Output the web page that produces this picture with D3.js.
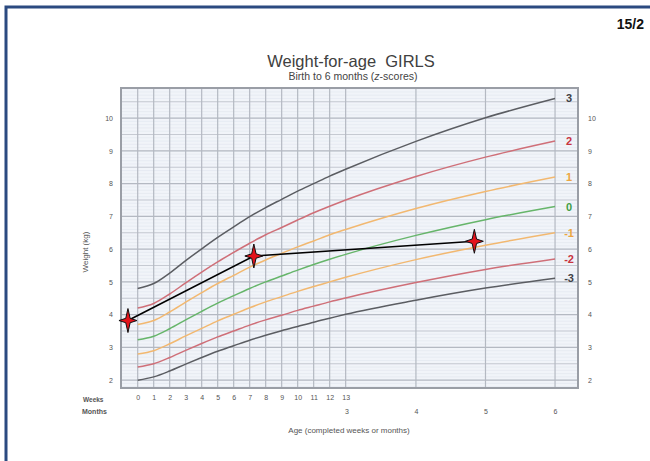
<!DOCTYPE html>
<html>
<head>
<meta charset="utf-8">
<script src="https://cdn.jsdelivr.net/npm/d3@7/dist/d3.min.js"></script>
<style>
  html, body { margin: 0; padding: 0; background: #fff; }
  svg { display: block; font-family: "Liberation Sans", Arial, sans-serif; }
  .pre { white-space: pre; }
</style>
</head>
<body>
<svg id="chart" width="650" height="461"></svg>
<script>
// WHO weight-for-age, girls, birth to 6 months (kg)
const weekTicks = [0, 1, 2, 3, 4, 5, 6, 7, 8, 9, 10, 11, 12, 13];
const monthTicks = [3, 4, 5, 6];
const weightTicks = [2, 3, 4, 5, 6, 7, 8, 9, 10];

// curve ages: weeks 0–13, then whole months 4–6
const curveWeeks = [0, 1, 2, 3, 4, 5, 6, 7, 8, 9, 10, 11, 12, 13];
const curveMonths = [4, 5, 6];

const sdNeg3 = [2.00, 2.10, 2.28, 2.49, 2.69, 2.88, 3.05, 3.22, 3.37, 3.51, 3.64, 3.77, 3.89, 4.01, 4.44, 4.81, 5.11];
const sdNeg2 = [2.40, 2.50, 2.69, 2.91, 3.12, 3.32, 3.50, 3.68, 3.84, 3.98, 4.13, 4.26, 4.39, 4.51, 4.98, 5.38, 5.70];
const sdNeg1 = [2.80, 2.90, 3.11, 3.35, 3.58, 3.81, 4.01, 4.21, 4.39, 4.55, 4.71, 4.86, 5.00, 5.14, 5.68, 6.12, 6.50];
const sd0    = [3.23, 3.34, 3.57, 3.84, 4.10, 4.35, 4.58, 4.80, 5.00, 5.18, 5.36, 5.53, 5.69, 5.84, 6.42, 6.90, 7.30];
const sd1    = [3.70, 3.82, 4.08, 4.38, 4.67, 4.95, 5.20, 5.45, 5.67, 5.87, 6.07, 6.25, 6.44, 6.60, 7.24, 7.76, 8.20];
const sd2    = [4.20, 4.34, 4.63, 4.97, 5.30, 5.61, 5.90, 6.18, 6.44, 6.66, 6.89, 7.11, 7.31, 7.50, 8.22, 8.81, 9.30];
const sd3    = [4.80, 4.95, 5.27, 5.65, 6.01, 6.36, 6.68, 6.99, 7.27, 7.52, 7.77, 8.00, 8.23, 8.44, 9.29, 10.01, 10.60];

const curveLabels = ["3", "2", "1", "0", "-1", "-2", "-3"];

// child's recorded measurements (age in months, weight in kg)
const childAges = [-0.14, 1.67, 4.84];
const childWeights = [3.82, 5.79, 6.24];

const DAYS_PER_MONTH = 30.4375;
const weekToMonth = w => w * 7 / DAYS_PER_MONTH;

const curveAges = curveWeeks.map(weekToMonth).concat(curveMonths);

const plot = { left: 121, right: 578, top: 88, bottom: 388 };

const x = d3.scaleLinear().domain([-0.24, 6.33]).range([plot.left, plot.right]);
const y = d3.scaleLinear().domain([1.76, 10.92]).range([plot.bottom, plot.top]);

const svg = d3.select("#chart");

// card frame (right and bottom edges run past the page)
svg.append("rect")
  .attr("x", 6).attr("y", 7).attr("width", 660).attr("height", 470)
  .attr("fill", "#fff").attr("stroke", "#2b4a80").attr("stroke-width", 3);

svg.append("text")
  .attr("x", 644).attr("y", 29).attr("text-anchor", "end")
  .attr("font-size", 14).attr("font-weight", "bold").attr("fill", "#111")
  .text("15/2");

// titles
svg.append("text")
  .attr("class", "pre")
  .attr("x", 351).attr("y", 67).attr("text-anchor", "middle")
  .attr("font-size", 16.5).attr("fill", "#404040")
  .text("Weight-for-age  GIRLS");
const sub = svg.append("text")
  .attr("x", 353).attr("y", 80).attr("text-anchor", "middle")
  .attr("font-size", 10.5).attr("fill", "#444");
sub.append("tspan").text("Birth to 6 months (");
sub.append("tspan").attr("font-style", "italic").text("z");
sub.append("tspan").text("-scores)");

// plot background
svg.append("rect")
  .attr("x", plot.left).attr("y", plot.top)
  .attr("width", plot.right - plot.left).attr("height", plot.bottom - plot.top)
  .attr("fill", "#f1f4f9");

const grid = svg.append("g");

// faint 0.1 kg lines
grid.selectAll("line.minor")
  .data(d3.range(18, 110).map(v => v / 10).filter(v => y(v) > plot.top && y(v) < plot.bottom))
  .join("line")
  .attr("x1", plot.left).attr("x2", plot.right)
  .attr("y1", d => y(d)).attr("y2", d => y(d))
  .attr("stroke", "#e1e6ee").attr("stroke-width", 0.6);

// 0.5 kg lines
grid.selectAll("line.half")
  .data(d3.range(4, 22).map(v => v / 2).filter(v => y(v) > plot.top && y(v) < plot.bottom))
  .join("line")
  .attr("x1", plot.left).attr("x2", plot.right)
  .attr("y1", d => y(d)).attr("y2", d => y(d))
  .attr("stroke", d => Number.isInteger(d) ? "#b4b9c2" : "#c6cad2")
  .attr("stroke-width", 1.2);

// week and month verticals
const verticals = weekTicks.map(weekToMonth).concat(monthTicks.slice(1));
grid.selectAll("line.v")
  .data(verticals)
  .join("line")
  .attr("x1", d => x(d)).attr("x2", d => x(d))
  .attr("y1", plot.top).attr("y2", plot.bottom)
  .attr("stroke", "#b4b9c2").attr("stroke-width", 1.2);

// plot border
svg.append("rect")
  .attr("x", plot.left).attr("y", plot.top)
  .attr("width", plot.right - plot.left).attr("height", plot.bottom - plot.top)
  .attr("fill", "none").attr("stroke", "#9a9ea6").attr("stroke-width", 2);

// weight axes, both sides
const leftAxis = d3.axisLeft(y).tickValues(weightTicks).tickSize(0).tickPadding(4);
const rightAxis = d3.axisRight(y).tickValues(weightTicks).tickSize(0).tickPadding(6);
function styleAxis(g) {
  g.select(".domain").remove();
  g.selectAll("text").attr("font-size", 7).attr("fill", "#555")
    .attr("font-family", "Liberation Sans, Arial, sans-serif");
}
svg.append("g").attr("transform", `translate(${plot.left - 4},0)`).call(leftAxis).call(styleAxis);
svg.append("g").attr("transform", `translate(${plot.right + 4},0)`).call(rightAxis).call(styleAxis);

// age axis: weeks row and months row
const weekAxis = d3.axisBottom(x).tickValues(weekTicks.map(weekToMonth))
  .tickFormat((d, i) => weekTicks[i]).tickSize(0).tickPadding(7);
const monthAxis = d3.axisBottom(x).tickValues(monthTicks)
  .tickFormat(d3.format("d")).tickSize(0).tickPadding(21);
svg.append("g").attr("transform", `translate(0,${plot.bottom})`).call(weekAxis).call(styleAxis);
svg.append("g").attr("transform", `translate(0,${plot.bottom})`).call(monthAxis).call(styleAxis);

svg.append("text").attr("x", 83).attr("y", 402)
  .attr("font-size", 6.5).attr("font-weight", "bold").attr("fill", "#555").text("Weeks");
svg.append("text").attr("x", 82).attr("y", 414)
  .attr("font-size", 7).attr("font-weight", "bold").attr("fill", "#555").text("Months");

svg.append("text")
  .attr("x", 349).attr("y", 433).attr("text-anchor", "middle")
  .attr("font-size", 8).attr("fill", "#555")
  .text("Age (completed weeks or months)");
svg.append("text")
  .attr("transform", "translate(88,252) rotate(-90)")
  .attr("text-anchor", "middle")
  .attr("font-size", 8).attr("fill", "#555")
  .text("Weight (kg)");

// z-score curves
const curves = [
  { name: curveLabels[0], values: sd3,    line: "#5b5d62", text: "#3f4146" },
  { name: curveLabels[1], values: sd2,    line: "#cf6f78", text: "#c8343f" },
  { name: curveLabels[2], values: sd1,    line: "#f2b870", text: "#eda640" },
  { name: curveLabels[3], values: sd0,    line: "#66b56a", text: "#3f9e45" },
  { name: curveLabels[4], values: sdNeg1, line: "#f2b870", text: "#eda640" },
  { name: curveLabels[5], values: sdNeg2, line: "#cf6f78", text: "#c8343f" },
  { name: curveLabels[6], values: sdNeg3, line: "#5b5d62", text: "#3f4146" }
];

const lineGen = d3.line()
  .x((d, i) => x(curveAges[i]))
  .y(d => y(d))
  .curve(d3.curveMonotoneX);

const cg = svg.append("g");
cg.selectAll("path")
  .data(curves)
  .join("path")
  .attr("d", d => lineGen(d.values))
  .attr("fill", "none")
  .attr("stroke", d => d.line)
  .attr("stroke-width", 1.5);

cg.selectAll("text")
  .data(curves)
  .join("text")
  .attr("x", x(6) + 14)
  .attr("y", d => y(d.values[d.values.length - 1]) + 4)
  .attr("text-anchor", "middle")
  .attr("font-size", 11).attr("font-weight", "bold")
  .attr("fill", d => d.text)
  .text(d => d.name);

// child's growth line and markers
const childPts = childAges.map((a, i) => [x(a), y(childWeights[i])]);
svg.append("path")
  .attr("d", d3.line()(childPts))
  .attr("fill", "none").attr("stroke", "#000").attr("stroke-width", 1.6);

const star = "M0,-12 L2.2,-2.2 L9,0 L2.2,2.2 L0,12 L-2.2,2.2 L-9,0 L-2.2,-2.2 Z";
svg.append("g").selectAll("path")
  .data(childPts)
  .join("path")
  .attr("transform", d => `translate(${d[0]},${d[1]})`)
  .attr("d", star)
  .attr("fill", "#e4131b").attr("stroke", "#111").attr("stroke-width", 1);
</script>
</body>
</html>
